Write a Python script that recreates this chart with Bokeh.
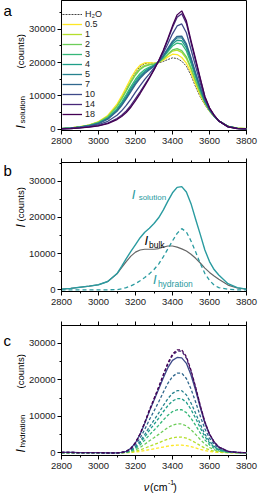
from math import pi
from bokeh.plotting import figure
from bokeh.models import Range1d, SingleIntervalTicker, LinearAxis, Label, Legend, LegendItem
from bokeh.layouts import column, row
from bokeh.embed import file_html
from bokeh.resources import INLINE

FONT = "Liberation Sans"

# ---------------- data ----------------
wavenumber = [2800, 2850, 2900, 2950, 3000, 3050, 3100, 3125, 3150, 3175, 3200, 3225, 3250, 3275,
              3300, 3325, 3350, 3375, 3400, 3425, 3450, 3475, 3500, 3525, 3550, 3575, 3600, 3625,
              3650, 3700, 3750, 3800]

# panel a: I_solution for each concentration
a_h2o = [200, 400, 700, 1200, 2100, 3800, 7000, 9300, 11900, 14600, 17000, 18800, 19700, 19900, 19800, 19900, 20300, 20900, 21400, 21200, 20400, 18900, 16200, 12700, 9700, 7300, 5300, 3700, 2500, 900, 300, 150]
a_0p5 = [200, 400, 750, 1300, 2300, 4100, 7500, 9900, 12600, 15300, 17600, 19200, 19900, 20000, 19800, 20000, 20700, 21700, 22500, 22400, 21500, 19800, 17000, 13400, 10200, 7600, 5500, 3800, 2500, 900, 300, 150]
a_1 = [190, 380, 710, 1230, 2160, 3840, 6990, 9230, 11760, 14340, 16610, 18270, 19140, 19480, 19580, 20060, 21020, 22300, 23440, 23710, 23040, 21200, 18060, 14240, 10760, 7840, 5600, 3840, 2500, 880, 290, 145]
a_2 = [185, 370, 700, 1200, 2100, 3740, 6810, 8990, 11460, 14000, 16250, 17930, 18870, 19300, 19500, 20080, 21140, 22530, 23780, 24190, 23600, 21710, 18440, 14540, 10970, 7930, 5640, 3860, 2500, 870, 290, 140]
a_3 = [170, 340, 650, 1110, 1920, 3400, 6170, 8130, 10400, 12780, 14990, 16740, 17900, 18640, 19220, 20150, 21540, 23300, 24970, 25850, 25560, 23480, 19780, 15600, 11680, 8240, 5760, 3920, 2500, 840, 270, 140]
a_4 = [160, 330, 620, 1070, 1830, 3240, 5840, 7700, 9860, 12170, 14360, 16140, 17420, 18310, 19080, 20180, 21740, 23680, 25560, 26680, 26540, 24370, 20460, 16140, 12040, 8390, 5820, 3940, 2500, 830, 260, 130]
a_5 = [160, 320, 600, 1030, 1750, 3090, 5570, 7340, 9410, 11650, 13820, 15630, 17000, 18030, 18960, 20210, 21920, 24010, 26070, 27400, 27380, 25130, 21030, 16590, 12340, 8520, 5880, 3970, 2500, 820, 260, 130]
a_7 = [150, 310, 590, 1000, 1700, 3000, 5380, 7090, 9100, 11300, 13460, 15290, 16730, 17840, 18880, 20230, 22030, 24230, 26410, 27870, 27940, 25640, 21420, 16900, 12550, 8610, 5910, 3980, 2500, 810, 250, 130]
a_10 = [130, 260, 500, 830, 1360, 2370, 4190, 5510, 7130, 9040, 11120, 13080, 14930, 16620, 18360, 20360, 22790, 25660, 28620, 30970, 31580, 28940, 23910, 18870, 13870, 9180, 6150, 4090, 2500, 760, 230, 110]
a_14 = [110, 210, 420, 690, 1080, 1840, 3180, 4170, 5460, 7120, 9140, 11210, 13410, 15580, 17920, 20470, 23430, 26870, 30490, 33590, 34660, 31740, 26020, 20540, 14990, 9670, 6350, 4180, 2500, 710, 210, 100]
a_18 = [100, 200, 400, 650, 1000, 1700, 2900, 3800, 5000, 6600, 8600, 10700, 13000, 15300, 17800, 20500, 23600, 27200, 31000, 34300, 35500, 32500, 26600, 21000, 15300, 9800, 6400, 4200, 2500, 700, 200, 100]

# panel b: decomposition of one spectrum
b_solution = [200, 400, 700, 1000, 1400, 2300, 4500, 6500, 8600, 10600, 12500, 14400, 15900, 17000, 18300, 19900, 22000, 24500, 26800, 28300, 28500, 27000, 23800, 19500, 15300, 11000, 7800, 5600, 4100, 1700, 600, 200]
b_bulk = [200, 400, 700, 1000, 1400, 2300, 4400, 6100, 7800, 9300, 10400, 11000, 11200, 11200, 11200, 11400, 11800, 12100, 12100, 11800, 11300, 10700, 9800, 8700, 7400, 6000, 4800, 3800, 2900, 1300, 500, 200]
b_hydration = [0, 0, 0, 0, 0, 0, 50, 250, 600, 1100, 1700, 2500, 3400, 4400, 5600, 7100, 9100, 11300, 13500, 15600, 16900, 16000, 13500, 10500, 7300, 4500, 2600, 1300, 600, 150, 0, 0]

# panel c: I_hydration for each concentration
c_0p5 = [10, 10, 0, 0, 0, 0, 0, 10, 30, 90, 210, 380, 610, 870, 1100, 1330, 1580, 1820, 2000, 2090, 2090, 1950, 1670, 1330, 960, 630, 380, 220, 120, 30, 10, 0]
c_1 = [20, 20, 10, 10, 10, 0, 0, 20, 60, 180, 430, 790, 1260, 1780, 2250, 2740, 3250, 3740, 4100, 4290, 4290, 4000, 3440, 2740, 1980, 1290, 790, 460, 240, 60, 20, 0]
c_2 = [30, 30, 10, 10, 10, 0, 0, 30, 110, 340, 780, 1460, 2320, 3280, 4140, 5040, 5990, 6890, 7560, 7900, 7900, 7360, 6330, 5040, 3640, 2380, 1460, 840, 450, 110, 30, 10]
c_3 = [40, 40, 20, 20, 20, 0, 0, 40, 170, 500, 1170, 2170, 3470, 4890, 6190, 7520, 8950, 10280, 11290, 11790, 11790, 10990, 9450, 7520, 5430, 3550, 2170, 1250, 670, 170, 40, 20]
c_4 = [50, 50, 30, 30, 30, 0, 0, 50, 210, 630, 1470, 2730, 4360, 6140, 7770, 9450, 11240, 12920, 14180, 14810, 14810, 13810, 11870, 9450, 6830, 4460, 2730, 1580, 840, 210, 50, 30]
c_5 = [60, 60, 30, 30, 30, 0, 0, 60, 240, 720, 1690, 3140, 5000, 7060, 8920, 10850, 12900, 14830, 16280, 17000, 17000, 15860, 13630, 10850, 7840, 5130, 3140, 1810, 960, 240, 60, 30]
c_7 = [80, 80, 40, 40, 40, 0, 0, 80, 310, 930, 2160, 4020, 6420, 9040, 11440, 13910, 16540, 19020, 20870, 21800, 21800, 20330, 17470, 13910, 10050, 6570, 4020, 2320, 1240, 310, 80, 40]
c_10 = [90, 90, 50, 50, 50, 0, 0, 100, 400, 1200, 2750, 5100, 8100, 11400, 14400, 17400, 20500, 23300, 25300, 26100, 26000, 24500, 21300, 17100, 12400, 8100, 5000, 2900, 1550, 380, 100, 50]
c_14 = [100, 100, 50, 50, 50, 0, 0, 100, 390, 1180, 2760, 5130, 8180, 11540, 14590, 17750, 21100, 24260, 26620, 27810, 27810, 25930, 22280, 17750, 12820, 8380, 5130, 2960, 1580, 390, 100, 50]
c_18 = [100, 100, 50, 50, 50, 0, 0, 100, 400, 1200, 2800, 5200, 8300, 11700, 14800, 18000, 21400, 24600, 27000, 28200, 28200, 26300, 22600, 18000, 13000, 8500, 5200, 3000, 1600, 400, 100, 50]

conc_labels = ["0.5", "1", "2", "3", "4", "5", "7", "10", "14", "18"]
conc_colors = ["#FDE725", "#B4DE2C", "#6DCD59", "#35B779", "#1F9E89", "#26828E", "#31688E", "#3E4A89", "#482878", "#440154"]
a_series = [a_0p5, a_1, a_2, a_3, a_4, a_5, a_7, a_10, a_14, a_18]
c_series = [c_0p5, c_1, c_2, c_3, c_4, c_5, c_7, c_10, c_14, c_18]
c_dashes = ["3 2", "3 2", "3 2", "3 2", "3 2", "3 2", "3 2", "solid", "3 2", "3 2"]

TEAL = "#2A9BA0"


def ticker_x():
    return SingleIntervalTicker(interval=200, num_minor_ticks=2)


def make_fig(height, b_top, b_bottom, yr, top_axis):
    p = figure(width=232, height=height, x_range=Range1d(2800, 3800), y_range=Range1d(*yr),
               output_backend="svg", toolbar_location=None,
               min_border_left=33, min_border_right=12, min_border_top=b_top, min_border_bottom=b_bottom)
    p.xgrid.visible = False
    p.ygrid.visible = False
    p.outline_line_color = "black"
    p.outline_line_width = 1
    p.xaxis.ticker = ticker_x()
    p.yaxis.ticker = SingleIntervalTicker(interval=10000, num_minor_ticks=2)
    for ax in p.xaxis + p.yaxis:
        ax.major_tick_in = 0
        ax.major_tick_out = 4
        ax.minor_tick_in = 0
        ax.minor_tick_out = 2
        ax.axis_line_color = "black"
        ax.major_tick_line_color = "black"
        ax.minor_tick_line_color = "black"
        ax.major_label_text_font = FONT
        ax.major_label_text_font_size = "9.5px"
        ax.major_label_text_color = "#222222"
    p.xaxis.major_label_standoff = 3
    p.yaxis.major_label_standoff = 2
    if top_axis:
        t = LinearAxis(ticker=ticker_x(), major_tick_in=0, major_tick_out=4,
                       minor_tick_in=0, minor_tick_out=2,
                       major_label_text_font_size="1px", major_label_text_color=None,
                       major_label_standoff=0, axis_line_color="black")
        p.add_layout(t, "above")
    return p


def blank_fig(width, height, xr, yr):
    f = figure(width=width, height=height, x_range=Range1d(*xr), y_range=Range1d(*yr),
               output_backend="svg", toolbar_location=None, x_axis_type=None, y_axis_type=None,
               min_border_left=0, min_border_right=0, min_border_top=0, min_border_bottom=0)
    f.xgrid.visible = False
    f.ygrid.visible = False
    f.outline_line_color = None
    return f


def lab(p, x, y, text, size, style="normal", color="black", angle=0.0, align="left"):
    p.add_layout(Label(x=x, y=y, text=text, text_font=FONT, text_font_size=size,
                       text_font_style=style, text_color=color, angle=angle,
                       text_align=align, text_baseline="alphabetic"))


# ---------------- panel a ----------------
pa = make_fig(157, 0, 27, (-390, 38610), False)
items = []
r = pa.line(wavenumber, a_h2o, line_color="#444444", line_width=1, line_dash="2 1")
items.append(LegendItem(label="H₂O", renderers=[r]))
for lbl, col, ys in zip(conc_labels, conc_colors, a_series):
    r = pa.line(wavenumber, ys, line_color=col, line_width=1.3)
    items.append(LegendItem(label=lbl, renderers=[r]))
leg = Legend(items=items, location=(1, 11), margin=0, padding=0, spacing=0,
             glyph_width=20, glyph_height=10, label_height=10, label_standoff=3,
             label_text_font=FONT, label_text_font_size="9px", label_text_color="#222222",
             border_line_color=None, background_fill_alpha=0)
pa.add_layout(leg)

# ---------------- panel b ----------------
pb = make_fig(163, 5, 29, (-470, 35170), True)
pb.line(wavenumber, b_bulk, line_color="#666666", line_width=1.2)
pb.line(wavenumber, b_solution, line_color=TEAL, line_width=1.4)
pb.line(wavenumber, b_hydration, line_color=TEAL, line_width=1.3, line_dash="4 3")
lab(pb, 3180, 26329, "I", "13px", "italic", TEAL)
lab(pb, 3217, 25500, "solution", "8px", "normal", TEAL)
lab(pb, 3249, 13620, "I", "13px", "italic", "black")
lab(pb, 3273, 12239, "bulk", "8.5px", "normal", "black")
lab(pb, 3295, 2845, "I", "13px", "italic", TEAL)
lab(pb, 3321, 1464, "hydration", "8.5px", "normal", TEAL)

# ---------------- panel c ----------------
pc = make_fig(156, 5, 21, (-740, 34850), True)
for col, ys, dash in zip(conc_colors, c_series, c_dashes):
    pc.line(wavenumber, ys, line_color=col, line_width=1.3, line_dash=dash)

# ---------------- x-axis title strip (below panel c) ----------------
xl = blank_fig(232, 18, (26, 258), (0, 18))
lab(xl, 129, 8, "ν", "11px", "italic")
lab(xl, 159, 8, "(cm", "10.5px", align="right")
lab(xl, 159.5, 12.5, "-1", "7px")
lab(xl, 166, 8, ")", "10.5px")

# ---------------- left strip: panel letters and y-axis titles ----------------
lf = blank_fig(26, 494, (0, 26), (0, 494))
lab(lf, 3, 484, "a", "15px")
lab(lf, 3, 324, "b", "15px")
lab(lf, 3, 154, "c", "15px")
# panel a
lab(lf, 20, 366, "I", "12px", "italic", angle=pi / 2)
lab(lf, 22, 371, "solution", "8px", angle=pi / 2)
lab(lf, 19.5, 426, "(counts)", "9.5px", angle=pi / 2)
# panel b
lab(lf, 20, 267, "I", "12px", "italic", angle=pi / 2)
lab(lf, 19.5, 273, "(counts)", "9.5px", angle=pi / 2)
# panel c
lab(lf, 20, 42, "I", "12px", "italic", angle=pi / 2)
lab(lf, 22, 47, "hydration", "8px", angle=pi / 2)
lab(lf, 19.5, 106, "(counts)", "9.5px", angle=pi / 2)

layout = row(lf, column(pa, pb, pc, xl, spacing=0), spacing=0)
open("out.html", "w").write(file_html(layout, INLINE))
